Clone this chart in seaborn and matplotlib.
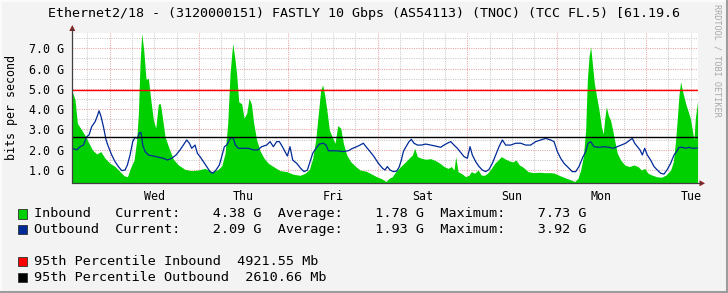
import numpy as np
import pandas as pd
import matplotlib
matplotlib.use("Agg")
import matplotlib.pyplot as plt
import seaborn as sns
from matplotlib.patches import Rectangle, Polygon
from matplotlib.lines import Line2D

# ---------------- data ----------------
title = "Ethernet2/18 - (3120000151) FASTLY 10 Gbps (AS54113) (TNOC) (TCC FL.5) [61.19.6"
ylabel = "bits per second"
watermark = "RRDTOOL / TOBI OETIKER"

day_labels = ["Wed", "Thu", "Fri", "Sat", "Sun", "Mon", "Tue"]
label_hours = [12, 36, 60, 84, 108, 132, 156]          # hours after Wed 00:00
ytick_values = [1, 2, 3, 4, 5, 6, 7]
ytick_labels = ["1.0 G", "2.0 G", "3.0 G", "4.0 G", "5.0 G", "6.0 G", "7.0 G"]

# Inbound (Gbps) - hours relative to Wed 00:00
in_hours = [-10.0, -9.26, -8.63, -7.47, -6.40, -5.50, -4.61, -3.44, -2.37, -1.21,
            0.13, 1.48, 2.82, 3.89, 4.79, 5.68, 6.58, 7.29, 7.74, 8.18,
            8.63, 9.17, 9.79, 10.42, 10.96, 11.76, 12.39, 13.10, 13.64, 14.18,
            14.89, 15.88, 17.13, 18.47, 20.26, 22.05, 23.84, 25.63, 27.42, 28.94,
            30.10, 31.00, 31.71, 32.34, 33.05, 33.68, 34.12, 34.66, 35.47, 36.09,
            36.81, 37.43, 38.06, 38.68, 39.49, 40.38, 41.46, 42.62, 43.96, 45.75,
            47.54, 49.33, 51.12, 52.46, 53.62, 54.52, 55.32, 56.04, 56.66, 57.20,
            57.74, 58.37, 58.99, 59.80, 60.51, 61.23, 62.03, 62.75, 63.64, 64.72,
            65.88, 67.22, 68.83, 70.35, 71.69, 73.03, 74.20, 74.99, 75.89, 76.78,
            77.68, 78.57, 79.47, 80.37, 81.26, 81.89, 82.61, 83.68, 84.84, 86.18,
            87.52, 88.69, 89.76, 90.84, 91.73, 92.45, 92.89, 93.52, 94.68, 95.57,
            96.47, 97.09, 97.99, 98.88, 99.78, 100.67, 101.57, 102.46, 103.36, 104.25,
            105.15, 106.04, 107.12, 108.19, 109.09, 109.98, 111.06, 112.31, 113.74, 115.25,
            116.78, 118.39, 119.45, 120.62, 121.96, 123.39, 124.82, 125.71, 126.43, 127.15,
            127.77, 128.22, 128.67, 129.11, 129.56, 130.10, 130.72, 131.35, 131.98, 132.51,
            132.87, 133.32, 133.86, 134.48, 135.02, 135.56, 136.27, 137.17, 138.24, 139.49,
            140.74, 141.82, 142.71, 143.61, 144.50, 145.57, 146.82, 148.08, 149.33, 150.58,
            151.30, 151.92, 152.37, 152.82, 153.26, 153.71, 154.25, 154.79, 155.32, 155.86,
            156.40, 156.84, 157.20, 157.80]
in_gbps = [4.86, 4.45, 3.30, 2.97, 2.64, 2.31, 1.99, 1.79, 1.91, 1.58,
           1.33, 1.17, 0.92, 0.72, 0.67, 1.13, 1.49, 2.48, 3.80, 6.26,
           7.73, 6.92, 5.47, 5.52, 4.62, 3.47, 3.06, 4.26, 4.26, 3.60,
           2.64, 2.12, 1.53, 1.25, 1.03, 0.97, 1.00, 1.08, 0.92, 1.00,
           1.20, 1.82, 3.30, 5.77, 7.25, 6.42, 5.69, 4.37, 4.26, 3.56,
           3.80, 4.54, 4.26, 3.30, 2.48, 1.95, 1.58, 1.33, 1.17, 0.97,
           0.92, 0.79, 0.74, 0.84, 1.03, 1.58, 2.48, 3.80, 4.95, 5.19,
           4.70, 3.88, 2.97, 2.61, 2.32, 3.19, 3.06, 2.32, 1.74, 1.41,
           1.20, 1.00, 0.94, 0.80, 0.67, 0.57, 0.43, 0.59, 0.67, 0.92,
           1.08, 1.25, 1.41, 1.58, 1.74, 2.07, 1.66, 1.58, 1.53, 1.56,
           1.46, 1.33, 1.17, 1.08, 1.17, 1.00, 1.66, 0.92, 0.80, 0.67,
           0.75, 0.92, 0.84, 1.00, 0.75, 0.74, 0.87, 1.08, 1.33, 1.49,
           1.66, 1.56, 1.46, 1.40, 1.49, 1.25, 1.13, 0.92, 0.87, 0.89,
           0.87, 0.87, 0.84, 0.74, 0.64, 0.54, 0.43, 0.59, 1.00, 1.66,
           2.97, 5.44, 6.59, 7.08, 6.26, 5.27, 4.62, 3.96, 3.14, 2.78,
           3.50, 4.12, 3.71, 3.43, 2.97, 2.45, 1.82, 1.49, 1.25, 1.17,
           1.25, 1.17, 1.00, 1.08, 0.84, 0.75, 0.67, 0.64, 0.75, 1.00,
           1.41, 2.48, 3.55, 4.70, 5.36, 4.94, 4.54, 4.16, 3.88, 3.55,
           2.97, 2.48, 3.55, 4.38]

# Outbound (Gbps)
out_hours = [-10.0, -8.81, -7.92, -7.02, -6.13, -5.50, -4.79, -3.89, -3.35, -2.82,
             -2.28, -1.65, -0.94, -0.31, 0.58, 1.48, 2.37, 3.26, 4.16, 4.79,
             5.50, 6.22, 6.84, 7.47, 8.00, 8.45, 8.90, 9.53, 10.42, 11.76,
             13.10, 14.45, 15.52, 16.68, 17.84, 18.92, 19.81, 20.71, 21.42, 22.05,
             22.94, 23.57, 24.28, 25.18, 26.07, 26.97, 27.68, 28.58, 29.47, 30.10,
             30.81, 31.44, 32.16, 32.69, 33.23, 33.77, 34.57, 35.91, 37.25, 38.59,
             39.76, 40.83, 42.17, 43.07, 43.96, 44.86, 45.57, 46.38, 47.09, 47.72,
             48.43, 49.15, 50.22, 51.30, 52.19, 53.09, 53.80, 54.52, 55.41, 56.31,
             57.38, 58.10, 58.72, 60.06, 61.40, 62.75, 64.09, 65.25, 66.32, 67.22,
             68.11, 68.83, 69.90, 70.97, 72.14, 73.30, 73.93, 74.55, 75.27, 76.16,
             77.06, 77.68, 78.31, 78.85, 79.56, 80.37, 80.99, 81.71, 82.61, 83.68,
             84.84, 86.18, 87.52, 88.86, 89.76, 90.65, 91.55, 92.44, 93.34, 94.41,
             95.13, 96.02, 96.74, 97.36, 98.26, 99.15, 100.05, 100.94, 101.84, 102.73,
             103.63, 104.52, 105.42, 106.31, 107.65, 108.99, 110.33, 111.67, 113.01, 114.36,
             115.70, 117.04, 118.38, 119.28, 120.17, 121.06, 121.96, 123.30, 124.19, 125.09,
             125.98, 126.88, 127.77, 128.40, 129.11, 130.01, 131.35, 132.69, 134.03, 135.20,
             136.27, 137.34, 138.51, 139.67, 140.30, 140.92, 141.64, 142.35, 142.98, 143.61,
             144.32, 145.21, 146.11, 147.00, 147.90, 148.79, 149.69, 150.58, 151.48, 152.19,
             152.82, 153.71, 154.61, 155.50, 156.40, 157.80]
out_gbps = [2.07, 1.99, 2.15, 2.23, 2.64, 2.73, 3.14, 3.38, 3.63, 3.92,
            3.63, 3.14, 2.48, 2.15, 1.74, 1.41, 1.17, 0.97, 1.00, 1.25,
            1.74, 2.40, 2.61, 2.56, 2.84, 2.84, 2.23, 1.91, 1.74, 1.69,
            1.63, 1.58, 1.49, 1.58, 1.74, 1.99, 2.23, 2.48, 2.32, 2.07,
            2.23, 1.82, 1.66, 1.41, 1.17, 0.92, 0.84, 1.00, 1.25, 1.66,
            2.15, 2.23, 2.48, 2.61, 2.56, 2.23, 2.07, 2.07, 2.07, 1.99,
            1.99, 2.15, 2.23, 2.40, 2.15, 2.40, 2.40, 2.15, 1.91, 1.69,
            2.15, 1.49, 1.33, 1.08, 0.92, 1.00, 1.41, 1.82, 2.07, 2.28,
            2.32, 2.23, 1.95, 1.95, 1.94, 1.91, 1.95, 2.07, 2.15, 2.23,
            2.32, 2.15, 1.91, 1.66, 1.33, 1.08, 1.00, 1.17, 1.00, 0.92,
            0.95, 1.13, 1.49, 1.91, 2.15, 2.40, 2.51, 2.32, 2.23, 2.23,
            2.28, 2.23, 2.18, 2.12, 2.23, 2.32, 2.40, 2.23, 2.07, 1.82,
            1.66, 1.58, 2.15, 1.74, 1.41, 1.17, 1.00, 0.92, 1.03, 1.33,
            1.74, 2.15, 2.48, 2.23, 2.23, 2.32, 2.32, 2.23, 2.23, 2.40,
            2.48, 2.56, 2.48, 2.40, 1.91, 1.58, 1.33, 1.08, 0.92, 0.92,
            1.17, 1.58, 1.91, 2.32, 2.40, 2.15, 2.12, 2.15, 2.12, 2.07,
            2.15, 2.23, 2.32, 2.48, 2.56, 2.32, 2.15, 1.99, 1.74, 2.07,
            1.74, 1.49, 1.17, 1.00, 0.84, 0.80, 1.03, 1.33, 1.74, 1.91,
            2.12, 2.12, 2.07, 2.12, 2.07, 2.09]

pct_in = 4.92155    # 95th percentile inbound (G)
pct_out = 2.61066   # 95th percentile outbound (G)

legend_rows = [
    ("Inbound   Current:    4.38 G  Average:    1.78 G  Maximum:    7.73 G", "#00CF00"),
    ("Outbound  Current:    2.09 G  Average:    1.93 G  Maximum:    3.92 G", "#002A97"),
    ("95th Percentile Inbound  4921.55 Mb", "#FF0000"),
    ("95th Percentile Outbound  2610.66 Mb", "#000000"),
]

# ---------------- style ----------------
sns.set_theme(style="white")
plt.rcParams["font.family"] = ["DejaVu Sans Mono"]

W, H = 728, 293
fig = plt.figure(figsize=(W / 100, H / 100), dpi=100)
fig.patch.set_facecolor("#F3F3F3")

def fx(px):
    return px / W

def fy(py):
    return 1 - py / H

L, R, T, B = 72.3, 698.3, 32.7, 183.3
ax = fig.add_axes([fx(L), fy(B), fx(R) - fx(L), (B - T) / H])
ax.set_facecolor("white")
ax.set_xlim(-10, 158)
ax.set_ylim(0.345, 7.77)

grid_minor = "#C8C8C8"
grid_major = "#E9A3A3"
dot = (0, (1, 1.2))
for h in range(-6, 158, 6):
    ax.axvline(h, color=grid_major if h % 24 == 0 else grid_minor,
               lw=0.75, ls=dot, zorder=0.5)
for v in np.arange(0.5, 7.6, 0.5):
    ax.axhline(v, color=grid_major if float(v).is_integer() else grid_minor,
               lw=0.75, ls=dot, zorder=0.5)

ax.fill_between(in_hours, 0, in_gbps, color="#00CF00", lw=0, zorder=2)
df_out = pd.DataFrame({"hour": out_hours, "gbps": out_gbps})
sns.lineplot(data=df_out, x="hour", y="gbps", ax=ax, color="#002A97",
             lw=0.9, errorbar=None, zorder=3)
ax.axhline(pct_in, color="#FF0000", lw=1.0, zorder=4)
ax.axhline(pct_out, color="#000000", lw=1.0, zorder=4)

for s in ax.spines.values():
    s.set_visible(False)

ax.set_xlabel("")
ax.set_ylabel("")
ax.set_yticks(ytick_values)
ax.set_yticklabels(ytick_labels, fontsize=8.4, color="#000000")
ax.set_xticks(label_hours)
ax.set_xticklabels(day_labels, fontsize=8.4, color="#000000")
ax.tick_params(axis="y", length=2.2, width=0.75, color="#404040", pad=3.6, direction="out")
ax.tick_params(axis="x", length=0, pad=4.5)
ax.set_xticks(range(0, 158, 24), minor=True)
ax.tick_params(axis="x", which="minor", length=2.2, width=0.75, color="#404040", direction="out")

axis_col = "#404040"
arrow_col = "#8B1E1E"
# y axis line + arrow
fig.add_artist(Line2D([fx(L), fx(L)], [fy(B), fy(28)], color=axis_col, lw=0.9))
fig.add_artist(Polygon([[fx(L - 3), fy(31)], [fx(L + 3), fy(31)], [fx(L), fy(25)]],
                       closed=True, color=arrow_col, lw=0))
# x axis line + arrow
fig.add_artist(Line2D([fx(L), fx(701)], [fy(B), fy(B)], color=axis_col, lw=0.9))
fig.add_artist(Polygon([[fx(699.5), fy(B - 3)], [fx(699.5), fy(B + 3)], [fx(705), fy(B)]],
                       closed=True, color=arrow_col, lw=0))

fig.text(fx(364.5), fy(14), title, ha="center", va="center", fontsize=9.6, color="#000000")
fig.text(fx(12), fy(107), ylabel, rotation=90, ha="center", va="center",
         fontsize=8.4, color="#000000")
fig.text(fx(717), fy(60), watermark, rotation=270, ha="center", va="center",
         fontsize=6.1, color="#A8A8A8")

row_y = [214, 229.3, 261.7, 277.3]
for (txt, col), yy in zip(legend_rows, row_y):
    fig.add_artist(Rectangle((fx(17.5), fy(yy + 4.7)), 9.4 / W, 9.4 / H,
                             facecolor=col, edgecolor="#303030", lw=0.6))
    fig.text(fx(34.3), fy(yy), txt, ha="left", va="center", fontsize=9.7, color="#000000")

# 3D frame
fig.add_artist(Line2D([fx(0.5), fx(0.5)], [0, 1], color="#FCFCFC", lw=1.4))
fig.add_artist(Line2D([0, 1], [fy(0.5), fy(0.5)], color="#FCFCFC", lw=1.4))
fig.add_artist(Line2D([fx(727), fx(727)], [0, 1], color="#9C9C9C", lw=1.5))
fig.add_artist(Line2D([0, 1], [fy(292), fy(292)], color="#9C9C9C", lw=1.5))

fig.savefig("out.png", dpi=100, facecolor=fig.get_facecolor())
